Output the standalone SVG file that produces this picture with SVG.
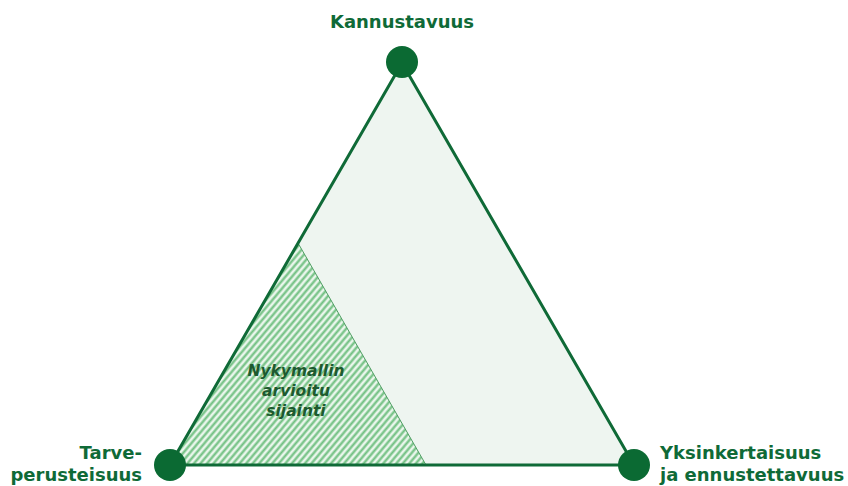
<svg xmlns="http://www.w3.org/2000/svg" width="848" height="486" viewBox="0 0 848 486">
<defs>
<style>
.lbl{font-family:"DejaVu Sans","Liberation Sans",sans-serif;font-weight:bold;font-size:18px;fill:#0f6a37}
.in{font-family:"DejaVu Sans","Liberation Sans",sans-serif;font-weight:bold;font-style:italic;font-size:15.5px;fill:#1d5a2f}
.edge{stroke:#0f6a37;stroke-width:3;fill:none;stroke-linecap:round}
.dot{fill:#0b6a33}
</style>
<pattern id="hatch" patternUnits="userSpaceOnUse" width="5" height="5" patternTransform="rotate(40)">
<rect width="5" height="5" fill="#eaf6ec"/>
<line x1="1.5" y1="0" x2="1.5" y2="5" stroke="#6fbf80" stroke-width="2.2"/>
</pattern>
</defs>
<rect width="848" height="486" fill="#ffffff"/>
<g id="area">
<polygon points="402,63 170,465 634,465" fill="#eef5f0"/>
<polygon points="298,243 170,465 426,465" fill="url(#hatch)" stroke="#4f9e63" stroke-width="1"/>
<text class="in" x="296" y="376" text-anchor="middle">Nykymallin</text>
<text class="in" x="296" y="396" text-anchor="middle">arvioitu</text>
<text class="in" x="296" y="416" text-anchor="middle">sijainti</text>
</g>
<g id="connectors">
<line class="edge" x1="402" y1="63" x2="170" y2="465"/>
<line class="edge" x1="402" y1="63" x2="634" y2="465"/>
<line class="edge" x1="170" y1="465" x2="634" y2="465"/>
</g>
<g id="node-kannustavuus">
<circle class="dot" cx="402" cy="62" r="16"/>
<text class="lbl" x="402" y="28" text-anchor="middle">Kannustavuus</text>
</g>
<g id="node-tarve">
<circle class="dot" cx="170" cy="465" r="16"/>
<text class="lbl" x="142" y="459" text-anchor="end">Tarve-</text>
<text class="lbl" x="142" y="481" text-anchor="end">perusteisuus</text>
</g>
<g id="node-yksinkertaisuus">
<circle class="dot" cx="634" cy="465" r="16"/>
<text class="lbl" x="660" y="459">Yksinkertaisuus</text>
<text class="lbl" x="660" y="481">ja ennustettavuus</text>
</g>
</svg>
